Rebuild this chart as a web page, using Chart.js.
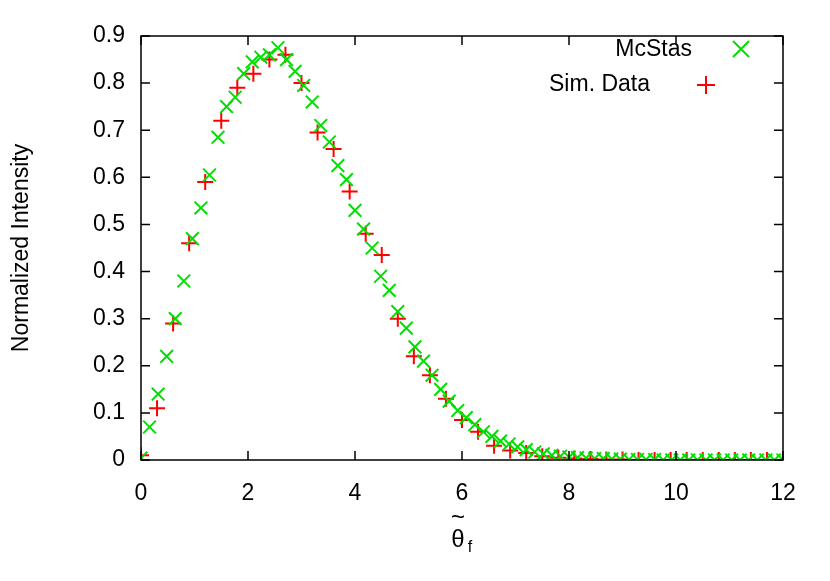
<!DOCTYPE html>
<html>
<head>
<meta charset="utf-8">
<script src="https://cdn.jsdelivr.net/npm/chart.js@4"></script>
<style>body{margin:0;background:#fff}#wrap{width:830px;height:581px}</style>
</head>
<body>
<div id="wrap"><canvas id="c"></canvas></div>
<script>
// McStas points (green x)
var mcX = [0,0.16,0.32,0.48,0.64,0.8,0.96,1.12,1.28,1.44,1.6,1.76,1.92,2.08,2.24,2.4,2.56,2.72,2.88,3.04,
  3.2,3.36,3.52,3.68,3.84,4,4.16,4.32,4.48,4.64,4.8,4.96,5.12,5.28,5.44,5.6,5.76,5.92,6.08,6.24,
  6.4,6.56,6.72,6.88,7.04,7.2,7.36,7.52,7.68,7.84,8,8.16,8.32,8.48,8.64,8.8,8.96,9.12,9.28,9.44,
  9.6,9.76,9.92,10.08,10.24,10.4,10.56,10.72,10.88,11.04,11.2,11.36,11.52,11.68,11.84,12]
var mcY = [0.004,0.07,0.14,0.22,0.30,0.38,0.47,0.535,0.605,0.685,0.75,0.77,0.82,0.845,0.855,0.86,0.875,0.85,0.825,0.795,
  0.76,0.71,0.675,0.625,0.595,0.53,0.49,0.45,0.39,0.36,0.315,0.28,0.24,0.21,0.18,0.15,0.125,0.105,0.09,0.075,
  0.06,0.05,0.04,0.034,0.028,0.022,0.017,0.013,0.01,0.008,0.006,0.005,0.004,0.003,0.003,0.002,0.002,0.001,0.001,0.001,
  0.001,0,0,0,0,0,0,0,0,0,0,0,0,0,0,0]
// Sim. Data points (red +)
var simX = [0,0.3,0.6,0.9,1.2,1.5,1.8,2.1,2.4,2.7,3,3.3,3.6,3.9,4.2,4.5,4.8,5.1,5.4,5.7,
  6,6.3,6.6,6.9,7.2,7.5,7.8,8.1,8.4,8.7,9,9.3,9.6,9.9,10.2,10.5,10.8,11.1,11.4,11.7,12]
var simY = [0.01,0.11,0.29,0.46,0.59,0.72,0.79,0.82,0.85,0.86,0.80,0.695,0.66,0.57,0.48,0.435,0.30,0.22,0.18,0.13,
  0.085,0.06,0.03,0.02,0.015,0.008,0.005,0.003,0.002,0.001,0.001,0,0,0,0,0,0,0,0,0,0]
var xTicks = [0,2,4,6,8,10,12]
var yTicks = [0,0.1,0.2,0.3,0.4,0.5,0.6,0.7,0.8,0.9]

function pts(xs, ys){ return xs.map(function(x,i){ return {x:x, y:ys[i]} }) }
var FONT = 'Liberation Sans, Arial, sans-serif'

var frame = {
  id: 'frame',
  afterDraw: function(chart){
    var ctx = chart.ctx, a = chart.chartArea, sx = chart.scales.x, sy = chart.scales.y
    ctx.save()
    ctx.strokeStyle = '#000'; ctx.lineWidth = 1.5
    ctx.strokeRect(a.left, a.top, a.right-a.left, a.bottom-a.top)
    xTicks.forEach(function(t){
      var p = sx.getPixelForValue(t)
      ctx.beginPath(); ctx.moveTo(p,a.bottom); ctx.lineTo(p,a.bottom-9); ctx.moveTo(p,a.top); ctx.lineTo(p,a.top+9); ctx.stroke()
    })
    yTicks.forEach(function(t){
      var p = sy.getPixelForValue(t)
      ctx.beginPath(); ctx.moveTo(a.left,p); ctx.lineTo(a.left+9,p); ctx.moveTo(a.right,p); ctx.lineTo(a.right-9,p); ctx.stroke()
    })
    // legend
    ctx.font = '23px ' + FONT; ctx.fillStyle = '#000'; ctx.textAlign = 'right'; ctx.textBaseline = 'middle'
    ctx.fillText('McStas', 692, 50); ctx.fillText('Sim. Data', 650, 85)
    ctx.lineWidth = 2
    ctx.strokeStyle = '#00e000'
    ctx.beginPath(); ctx.moveTo(733,41); ctx.lineTo(749,57); ctx.moveTo(749,41); ctx.lineTo(733,57); ctx.stroke()
    ctx.strokeStyle = '#ff0000'
    ctx.beginPath(); ctx.moveTo(697,85); ctx.lineTo(715,85); ctx.moveTo(706,76); ctx.lineTo(706,94); ctx.stroke()
    // x title: theta with tilde, subscript f
    ctx.textAlign = 'center'; ctx.font = '24px ' + FONT
    ctx.fillText('\u03b8', 458, 540)
    ctx.fillText('~', 458, 518)
    ctx.font = '16px ' + FONT
    ctx.fillText('f', 470, 548)
    ctx.restore()
  }
}

new Chart(document.getElementById('c'), {
  type: 'scatter',
  data: {
    datasets: [
      { label: 'McStas', data: pts(mcX, mcY), pointStyle: 'crossRot', pointRadius: 9, pointBorderWidth: 2,
        borderColor: '#00e000', backgroundColor: '#00e000', pointHoverRadius: 9 },
      { label: 'Sim. Data', data: pts(simX, simY), pointStyle: 'cross', pointRadius: 8, pointBorderWidth: 2,
        borderColor: '#ff0000', backgroundColor: '#ff0000', pointHoverRadius: 8 }
    ]
  },
  options: {
    responsive: true, maintainAspectRatio: false, animation: false,
    layout: { padding: { left: 8, right: 47, top: 36, bottom: 0 } },
    plugins: { legend: { display: false }, tooltip: { enabled: false } },
    scales: {
      x: {
        min: 0, max: 12,
        afterBuildTicks: function(s){ s.ticks = xTicks.map(function(v){ return {value:v} }) },
        afterFit: function(s){ s.height = 121 },
        grid: { drawOnChartArea: false, drawTicks: false },
        border: { display: false },
        ticks: { padding: 20, color: '#000', font: { size: 23, family: FONT } }
      },
      y: {
        min: 0, max: 0.9,
        afterBuildTicks: function(s){ s.ticks = yTicks.map(function(v){ return {value:v} }) },
        afterFit: function(s){ s.width = 133 },
        grid: { drawOnChartArea: false, drawTicks: false },
        border: { display: false },
        title: { display: true, text: 'Normalized Intensity', color: '#000', font: { size: 23, family: FONT }, padding: 0 },
        ticks: { padding: 16, color: '#000', font: { size: 23, family: FONT },
          callback: function(v){ return v === 0 ? '0' : v.toFixed(1) } }
      }
    }
  },
  plugins: [frame]
})
</script>
</body>
</html>
